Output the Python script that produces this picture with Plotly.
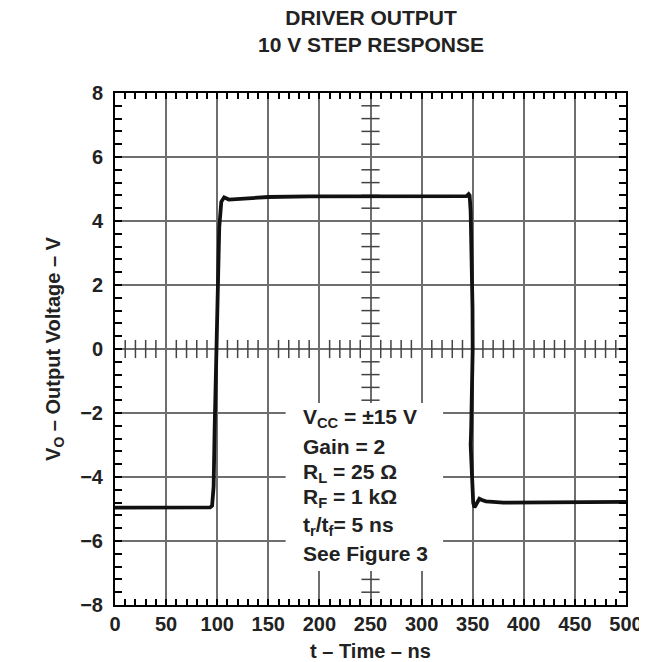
import numpy as np
import plotly.graph_objects as go

# ---- data ----
time_ns = [0, 50, 90, 93, 95, 96.5, 97.5, 99, 100.5, 102, 104, 106.8, 111.4, 123.5, 150, 190,
           250, 300, 340, 344, 346, 347, 348, 349, 349.8, 350, 349.5, 348.5, 348, 348.8,
           349.6, 350.5, 351.8, 353.5, 356.5, 359, 363, 380, 450, 500]
vout_v = [-4.96, -4.96, -4.95, -4.95, -4.9, -4.3, -2.5, 0, 2.0, 3.8, 4.6, 4.74, 4.67, 4.70, 4.75, 4.77,
          4.77, 4.77, 4.77, 4.78, 4.84, 4.8, 4.3, 3.0, 1.3, 0, -1.5, -2.5, -3.0, -3.8,
          -4.3, -4.8, -4.95, -4.85, -4.68, -4.72, -4.76, -4.8, -4.8, -4.78]

x_ticks = [0, 50, 100, 150, 200, 250, 300, 350, 400, 450, 500]
y_ticks = [-8, -6, -4, -2, 0, 2, 4, 6, 8]
y_tick_text = ["\u22128", "\u22126", "\u22124", "\u22122", "0", "2", "4", "6", "8"]

note_lines = ["V<sub>CC</sub> = \u00b115 V", "Gain = 2", "R<sub>L</sub> = 25 \u03a9",
              "R<sub>F</sub> = 1 k\u03a9", "t<sub>r</sub>/t<sub>f</sub>= 5 ns", "See Figure 3"]
note_y = [-2.17, -3.05, -3.875, -4.66, -5.53, -6.375]

FONT = "Liberation Sans"
GRID = "#6e6e6e"

fig = go.Figure()

# center-axis cross ticks (decoration of the center axes)
cx = [v for v in np.arange(10, 500, 10) if v % 50 != 0]
fig.add_trace(go.Scatter(x=cx, y=[0] * len(cx), mode="markers", hoverinfo="skip", showlegend=False,
                         marker=dict(symbol="line-ns", size=13, line=dict(width=1.5, color="#444"))))
cy = [round(v, 1) for v in np.arange(-7.6, 8.0, 0.4) if abs(round(v, 1) / 2 - round(round(v, 1) / 2)) > 1e-6]
fig.add_trace(go.Scatter(x=[250] * len(cy), y=cy, mode="markers", hoverinfo="skip", showlegend=False,
                         marker=dict(symbol="line-ew", size=13, line=dict(width=1.5, color="#444"))))

# main curve
fig.add_trace(go.Scatter(x=time_ns, y=vout_v, mode="lines", showlegend=False,
                         line=dict(color="#111", width=3.8)))

# white box behind the note
fig.add_shape(type="rect", xref="x", yref="y", x0=167, x1=321, y0=-6.94, y1=-1.69,
              fillcolor="white", line=dict(width=0), layer="above")

for txt, yy in zip(note_lines, note_y):
    fig.add_annotation(x=182, y=yy, xref="x", yref="y", text=txt, showarrow=False,
                       xanchor="left", yanchor="middle",
                       font=dict(family=FONT, size=21, color="#222", weight="bold"))

axis_common = dict(showline=True, linecolor="black", linewidth=2, mirror="ticks",
                   ticks="inside", ticklen=6, tickwidth=1.5, tickcolor="black",
                   showgrid=True, gridcolor=GRID, gridwidth=1.5, zeroline=False,
                   tickfont=dict(family=FONT, size=20, color="#222", weight="bold"))

fig.update_xaxes(range=[0, 500], tickvals=x_ticks, ticktext=[str(v) for v in x_ticks],
                 minor=dict(dtick=10, tick0=0, ticks="inside", ticklen=6, tickwidth=1.5,
                            tickcolor="black", showgrid=False),
                 title=dict(text="t \u2013 Time \u2013 ns", standoff=10,
                            font=dict(family=FONT, size=20, color="#222", weight="bold")),
                 **axis_common)
fig.update_yaxes(range=[-8, 8], tickvals=y_ticks, ticktext=y_tick_text,
                 minor=dict(dtick=0.4, tick0=0, ticks="inside", ticklen=7, tickwidth=1.5,
                            tickcolor="black", showgrid=False),
                 ticklabelstandoff=6,
                 title=dict(text="V<sub>O</sub> \u2013 Output Voltage \u2013 V", standoff=14,
                            font=dict(family=FONT, size=20, color="#222", weight="bold")),
                 **axis_common)

fig.update_layout(
    width=647, height=662,
    margin=dict(l=107, r=29, t=85, b=65, autoexpand=False),
    paper_bgcolor="white", plot_bgcolor="white",
    title=dict(text="DRIVER OUTPUT<br>10 V STEP RESPONSE", x=363 / 647, xanchor="center",
               yref="container", y=1 - 17 / 662, yanchor="top",
               font=dict(family=FONT, size=21, color="#222", weight="bold")),
)

fig.write_html("out.html")
